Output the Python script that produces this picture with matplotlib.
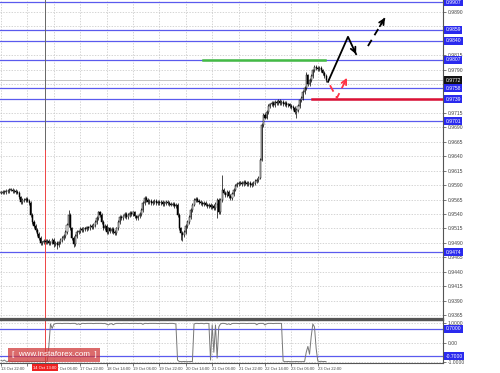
import matplotlib
matplotlib.use('Agg')
import matplotlib.pyplot as plt
from matplotlib.transforms import blended_transform_factory
import numpy as np

plt.rcParams['font.family'] = ['Liberation Sans', 'DejaVu Sans']

# hourly closes
closes = [
    0.9577, 0.9578, 0.9578, 0.9580, 0.9580, 0.9582,
    0.9582, 0.9580, 0.9580, 0.9578, 0.9577,
    0.9569, 0.9561, 0.9564,
    0.9564, 0.9566, 0.9563, 0.9559,
    0.9538, 0.9526, 0.9519,
    0.9512, 0.9505, 0.9498,
    0.9490, 0.9491, 0.9493,
    0.9491, 0.9493, 0.9490, 0.9491, 0.9495, 0.9488, 0.9490,
    0.9486, 0.9491, 0.9495,
    0.9498, 0.9502, 0.9509,
    0.9521, 0.9538, 0.9515,
    0.9498, 0.9488, 0.9502,
    0.9509, 0.9510, 0.9514, 0.9512, 0.9515,
    0.9514, 0.9517, 0.9515, 0.9519, 0.9517, 0.9521,
    0.9526, 0.9533, 0.9543, 0.9538,
    0.9526, 0.9515, 0.9519, 0.9509,
    0.9515, 0.9510, 0.9514,
    0.9509, 0.9507, 0.9515,
    0.9526, 0.9535, 0.9533,
    0.9536, 0.9540, 0.9535, 0.9538, 0.9542, 0.9540,
    0.9543, 0.9536, 0.9533, 0.9536,
    0.9540, 0.9547, 0.9559,
    0.9568, 0.9564, 0.9561,
    0.9563, 0.9559, 0.9561, 0.9563, 0.9559, 0.9561,
    0.9559, 0.9561, 0.9557, 0.9559, 0.9561, 0.9559, 0.9557,
    0.9556, 0.9557, 0.9554, 0.9556,
    0.9538, 0.9515, 0.9507,
    0.9503, 0.9509, 0.9519,
    0.9526, 0.9535, 0.9547,
    0.9556, 0.9564, 0.9566,
    0.9563, 0.9561, 0.9559, 0.9557, 0.9559,
    0.9556, 0.9554, 0.9556, 0.9552,
    0.9554, 0.9550, 0.9557,
    0.9564, 0.9543,
    0.9564, 0.9582,
    0.9577, 0.9573, 0.9578, 0.9571,
    0.9568, 0.9575, 0.9582,
    0.9589, 0.9592, 0.9594,
    0.9594, 0.9592, 0.9596, 0.9594, 0.9592, 0.9594,
    0.9590, 0.9592, 0.9594, 0.9597, 0.9599,
    0.9603, 0.9634,
    0.9694,
    0.9712, 0.9707, 0.9717,
    0.9727, 0.9730, 0.9732, 0.9729,
    0.9734, 0.9732, 0.9736, 0.9732, 0.9734, 0.9730,
    0.9732, 0.9729, 0.9730, 0.9727, 0.9725,
    0.9724, 0.9717, 0.9720,
    0.9727, 0.9737,
    0.9741, 0.9751, 0.9758,
    0.9780, 0.9765,
    0.9772, 0.9779, 0.9789,
    0.9795, 0.9793, 0.9791, 0.9793,
    0.9789, 0.9784, 0.9779, 0.9772,
]
# bars with long shadows: index -> (high, low)
spikes = {41: (0.9547, 0.9530), 32: (0.9495, 0.9483), 34: (0.9492, 0.9480),
          109: (0.9516, 0.9495), 110: (0.9510, 0.9493), 131: (0.9565, 0.9533),
          134: (0.9608, 0.9560), 179: (0.9722, 0.9706), 185: (0.9786, 0.9755),
          44: (0.9500, 0.9482)}

# oscillator in the lower window
osc = [
    -0.92, -0.95, -0.90, -0.96, -0.97, -0.94, -0.97, -0.98, -0.98, -0.97,
    -0.98, -0.98, -0.97, -0.98, -0.98, -0.98, -0.97, -0.98, -0.98, -0.98,
    -0.98, -0.97, -0.98, -0.98, -0.98, -0.98, -0.97, -0.98, -0.98,
    -0.20, 0.95, 0.72, 0.93,
    0.97, 0.98, 0.98, 0.98, 0.97, 0.98, 0.98, 0.98, 0.98, 0.97, 0.98, 0.98, 0.98,
    0.93, 0.96, 0.92,
    0.98, 0.98, 0.97, 0.98, 0.98, 0.98, 0.98, 0.97, 0.98, 0.98, 0.98, 0.98, 0.98, 0.97, 0.98,
    0.94, 0.90, 0.95, 0.97, 0.91, 0.96, 0.98,
    0.98, 0.98, 0.97, 0.98, 0.98, 0.98, 0.98, 0.97, 0.98, 0.98, 0.98, 0.98, 0.97, 0.98, 0.98,
    0.93,
    0.98, 0.98, 0.97, 0.98, 0.98, 0.98, 0.98, 0.98, 0.97, 0.98, 0.98, 0.98, 0.98, 0.98,
    0.97, 0.98, 0.98, 0.98, 0.97,
    0.95, -0.90,
    -0.97, -0.98, -0.98, -0.97, -0.98, -0.98, -0.98, -0.97, -0.98,
    0.95,
    0.98, 0.98, 0.97, 0.98, 0.98, 0.96, 0.98, 0.98, 0.97,
    -0.90, 0.90, -0.50, 0.90, -0.80, 0.80, 0.95,
    0.98, 0.98, 0.97, 0.93, 0.96, 0.92, 0.97, 0.98, 0.98, 0.98, 0.97, 0.98, 0.98, 0.98,
    0.98, 0.97, 0.98, 0.98, 0.98, 0.98, 0.98,
    0.91, 0.97, 0.98, 0.98, 0.98, 0.90,
    0.96, 0.98, 0.98, 0.98, 0.97, 0.98, 0.98, 0.98, 0.98, 0.98,
    -0.95,
    -0.98, -0.98, -0.97, -0.98, -0.98, -0.98, -0.98, -0.97, -0.98, -0.98, -0.98, -0.98, -0.97,
    -0.50, -0.20, -0.60, 0.30, 0.95, 0.80, -0.30, -0.95,
    -0.98, -0.96, -0.98, -0.97, -0.98,
]

levels = [0.9907, 0.9859, 0.9840, 0.9807, 0.9758, 0.9739, 0.9701, 0.9474]
osc_levels = [0.7, -0.7]
green_level = (122.4, 196.4, 0.9807)
red_level = (188.5, 0.9739)
# the second label sits under the marker's time box
date_labels = ['13 Oct 22:00', '', '17 Oct 06:00', '17 Oct 22:00',
               '18 Oct 14:00', '19 Oct 06:00', '19 Oct 22:00', '20 Oct 14:00',
               '21 Oct 06:00', '21 Oct 22:00', '22 Oct 14:00', '23 Oct 06:00',
               '23 Oct 22:00']
marker_bar = 26.7
marker_label = '14 Oct 13:00'
# forecast arrows (bar, price)
up_path = [(198.2, 0.9769), (210.3, 0.9847), (215.2, 0.9817)]
next_path = [(222.4, 0.9831), (232.7, 0.9880)]
alt_path = [(199.4, 0.9763), (203.6, 0.9741), (209.7, 0.9776)]

FS = 3.6
FSX = 3.0
W, H = 500, 373
fig = plt.figure(figsize=(W / 100, H / 100), dpi=100)
fig.patch.set_facecolor('white')
ax = fig.add_axes([0, (H - 319) / H, 443 / W, 319 / H])
ax2 = fig.add_axes([0, 10 / H, 443 / W, 43 / H], sharex=ax)

xmax = 443 / 1.65 - 0.6
ax.set_xlim(-0.6, xmax)
ax.set_ylim(0.93580, 0.99108)
ax2.set_ylim(-1.05, 1.154)

grid_kw = dict(color='#c4c4c4', lw=0.5, ls=(0, (2, 2)), zorder=0)
ticks = np.arange(len(date_labels)) * 16
price_ticks = 0.9890 - 0.0025 * np.arange(22)
for a in (ax, ax2):
    for t in ticks:
        a.axvline(t, **grid_kw)
for p in price_ticks:
    ax.axhline(p, **grid_kw)
for v in (1.0, 0.0, -1.0):
    ax2.axhline(v, **grid_kw)

# candles
n = len(closes)
idx = np.arange(n)
c = np.array(closes)
o = np.concatenate([[c[0]], c[:-1]])
hi = np.maximum(o, c) + 0.0003
lo = np.minimum(o, c) - 0.0003
for k, (h_, l_) in spikes.items():
    hi[k] = max(hi[k], h_)
    lo[k] = min(lo[k], l_)
ax.vlines(idx, lo, hi, color='black', lw=0.5, zorder=3)
body = np.maximum(np.abs(c - o), 0.00006)
up = c >= o
ax.bar(idx[up], body[up], bottom=np.minimum(o, c)[up], width=0.65,
       color='white', edgecolor='black', lw=0.35, zorder=4)
ax.bar(idx[~up], body[~up], bottom=np.minimum(o, c)[~up], width=0.65,
       color='black', edgecolor='black', lw=0.35, zorder=4)

# levels
for lv in levels:
    ax.axhline(lv, color='#5a5aee', lw=0.9, zorder=2)
for lv in osc_levels:
    ax2.axhline(lv, color='#5a5aee', lw=0.9, zorder=2)
ax.axhline(closes[-1], color='#bbbbbb', lw=0.6, zorder=1)
ax.plot([green_level[0], green_level[1]], [green_level[2]] * 2,
        color='#44bb44', lw=1.8, zorder=5)
ax.plot([red_level[0], xmax], [red_level[1]] * 2, color='#dd1133', lw=1.8, zorder=5)

# vertical marker line
ax.plot([marker_bar, marker_bar], [0.9650, 0.99108], color='#666666', lw=0.7, zorder=2)
ax.plot([marker_bar, marker_bar], [0.93580, 0.9650], color='#ee4444', lw=0.7, zorder=2)
ax2.axvline(marker_bar, color='#ee4444', lw=0.7, zorder=2)


def draw_arrow(path, color, dashed):
    xs = [p[0] for p in path]
    ys = [p[1] for p in path]
    ls = (0, (4, 3)) if dashed else '-'
    ax.plot(xs, ys, color=color, lw=1.3, ls=ls, zorder=6)
    ax.annotate('', xy=path[-1], xytext=(xs[-1] - (xs[-1] - xs[-2]) * 0.3,
                                         ys[-1] - (ys[-1] - ys[-2]) * 0.3),
                arrowprops=dict(arrowstyle='->', color=color, lw=1.3,
                                mutation_scale=9, shrinkA=0, shrinkB=0),
                zorder=6)


draw_arrow(up_path, 'black', False)
draw_arrow(next_path, 'black', True)
draw_arrow(alt_path, '#ff3344', True)

# oscillator
ax2.plot(np.arange(len(osc)), osc, color='#777777', lw=0.7, zorder=3)

# axes styling
for a in (ax, ax2):
    for s in ('top', 'left'):
        a.spines[s].set_visible(False)
    a.spines['right'].set_color('#555555')
    a.spines['right'].set_linewidth(0.8)
    a.spines['bottom'].set_color('#555555')
ax.spines['bottom'].set_linewidth(1.6)
ax2.spines['top'].set_visible(True)
ax2.spines['top'].set_color('#555555')
ax2.spines['top'].set_linewidth(1.0)
ax2.spines['bottom'].set_linewidth(0.8)

# grid price labels hidden behind the boxed labels
boxed = levels + [closes[-1]]
shown = [p for p in price_ticks if min(abs(p - b) for b in boxed) > 0.00075]
ax.yaxis.tick_right()
ax.set_yticks(shown)
ax.set_yticklabels(['%.4f' % p for p in shown])
ax2.yaxis.tick_right()
ax2.set_yticks([1.0, 0.0, -1.0])
ax2.set_yticklabels(['1.0000', '0.00', '-1.0000'])
for a in (ax, ax2):
    a.tick_params(axis='y', labelsize=FS, length=2, width=0.5, pad=1.5,
                  colors='#444444')
ax.tick_params(axis='x', bottom=False, labelbottom=False)
ax2.set_xticks(ticks)
ax2.set_xticklabels(date_labels)
ax2.tick_params(axis='x', labelsize=FSX, length=2, width=0.5, pad=1.2,
                colors='#444444')
for lab in ax2.get_xticklabels():
    lab.set_horizontalalignment('left')

# highlighted price labels
tr = blended_transform_factory(ax.transAxes, ax.transData)
for lv in levels:
    ax.text(1.006, lv, '%.4f' % lv, transform=tr, ha='left', va='center',
            fontsize=FS, color='white', zorder=10, clip_on=False,
            bbox=dict(boxstyle='square,pad=0.25', fc='#2a2aee', ec='none'))
ax.text(1.006, closes[-1], '%.4f' % closes[-1], transform=tr, ha='left',
        va='center', fontsize=FS, color='white', zorder=10, clip_on=False,
        bbox=dict(boxstyle='square,pad=0.25', fc='#111111', ec='none'))
tr2 = blended_transform_factory(ax2.transAxes, ax2.transData)
for lv in osc_levels:
    ax2.text(1.006, lv, '%.4f' % lv, transform=tr2, ha='left', va='center',
             fontsize=FS, color='white', zorder=10, clip_on=False,
             bbox=dict(boxstyle='square,pad=0.25', fc='#2a2aee', ec='none'))

# time label of the marker line
trx = blended_transform_factory(ax2.transData, ax2.transAxes)
ax2.text(marker_bar, -0.11, marker_label, transform=trx, ha='center', va='center',
         fontsize=FSX, color='white', zorder=10, clip_on=False,
         bbox=dict(boxstyle='square,pad=0.35', fc='#ee2222', ec='none'))

# watermark
fig.text(54 / W, 1 - 355 / H, '[  www.instaforex.com  ]', ha='center', va='center',
         fontsize=5.8, color='white', zorder=20,
         bbox=dict(boxstyle='square,pad=0.4', fc='#d03a3a', ec='none', alpha=0.75))

fig.savefig('out.png', dpi=100, facecolor='white')
